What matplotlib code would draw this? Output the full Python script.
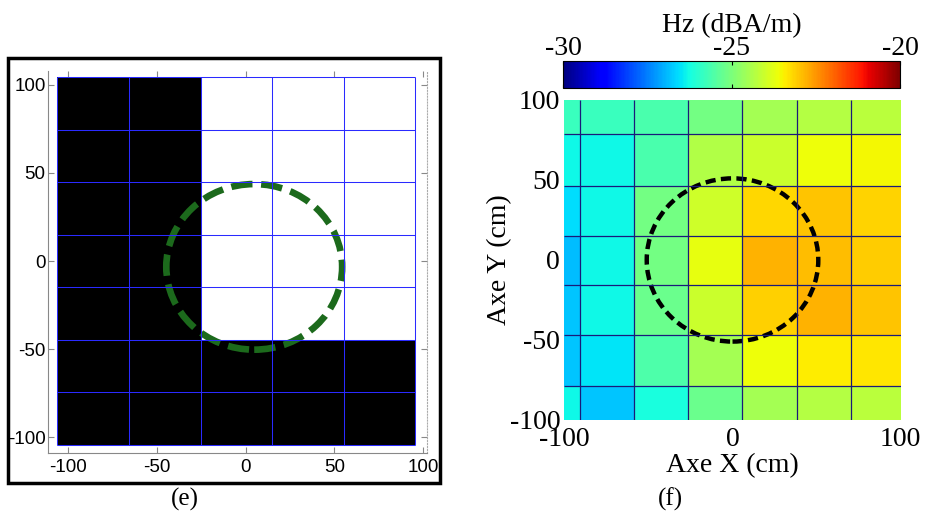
import numpy as np
import matplotlib
matplotlib.use("Agg")
import matplotlib.pyplot as plt
from matplotlib.patches import Ellipse, Rectangle, Circle

# ---------------- data ----------------
# panel (e): binary map (1 = black, 0 = white), rows bottom -> top
e_x_edges = [-106, -65.7, -25.3, 15.0, 55.3, 95.6]
e_y_edges = [-104.2, -74.4, -44.7, -14.9, 14.9, 44.7, 74.4, 104.2]
e_mask = [
    [1, 1, 1, 1, 1],
    [1, 1, 1, 1, 1],
    [1, 1, 0, 0, 0],
    [1, 1, 0, 0, 0],
    [1, 1, 0, 0, 0],
    [1, 1, 0, 0, 0],
    [1, 1, 0, 0, 0],
]
e_ticks = [-100, -50, 0, 50, 100]

# panel (f): Hz (dBA/m), rows top -> bottom
f_x_edges = [-100, -90.7, -58.5, -26.3, 5.9, 38.1, 70.3, 100]
f_y_edges = [100, 78.6, 46.4, 15.2, -15.6, -46.9, -78.6, -100]
f_values = [
    [-25.8, -25.8, -25.6, -25.1, -24.5, -24.3, -24.25],
    [-26.3, -26.3, -25.6, -24.35, -24.05, -23.6, -23.55],
    [-26.6, -26.3, -25.1, -24.0, -23.2, -23.0, -23.15],
    [-26.9, -26.3, -25.1, -23.7, -22.8, -22.9, -23.05],
    [-26.8, -26.3, -25.2, -24.05, -23.1, -22.8, -23.0],
    [-26.8, -26.5, -25.55, -24.5, -23.6, -23.4, -23.35],
    [-26.3, -26.8, -26.2, -25.2, -24.5, -24.3, -24.25],
]
f_ticks = [-100, 0, 100]
f_yticks = [-100, -50, 0, 50, 100]
cbar_ticks = [-30, -25, -20]

serif = ['Liberation Serif', 'DejaVu Serif']
sans = ['Liberation Sans', 'DejaVu Sans']

fig = plt.figure(figsize=(9.26, 5.19), dpi=100)

# ---------------- panel (e) ----------------
ax1 = fig.add_axes([0.0522, 0.127, 0.4086, 0.7366])
ax1.pcolormesh(e_x_edges, e_y_edges, np.array(e_mask),
               cmap=matplotlib.colors.ListedColormap(['white', 'black']),
               vmin=0, vmax=1, shading='flat')
ax1.vlines(e_x_edges, e_y_edges[0], e_y_edges[-1], color='#2a2aff',
           linewidth=0.75)
ax1.hlines(e_y_edges, e_x_edges[0], e_x_edges[-1], color='#2a2aff',
           linewidth=0.75)
ax1.add_patch(Ellipse((4.9, -3.3), 99, 94, fill=False, edgecolor='#1c6a1c',
                      linewidth=4.8, linestyle=(0, (3.2, 1.3))))
ax1.set_xlim(-111, 102)
ax1.set_ylim(-109, 108)
ax1.set_xticks(e_ticks)
ax1.set_yticks(e_ticks)
ax1.set_xticklabels([str(t) for t in e_ticks], family=sans, fontsize=13.5)
ax1.set_yticklabels([str(t) for t in e_ticks], family=sans, fontsize=13.5)
ax1.tick_params(direction='in', length=4, color='#888888', pad=2,
                top=True, right=True)
ax1.tick_params(axis='x', pad=4)
for s in ['left', 'bottom']:
    ax1.spines[s].set_color('#888888')
ax1.spines['top'].set_visible(False)
ax1.spines['right'].set_color('#aaaaaa')
ax1.spines['right'].set_linestyle(':')

fig.patches.append(Rectangle((8 / 926, 1 - 483 / 519), 432 / 926, 425 / 519,
                             transform=fig.transFigure, fill=False,
                             edgecolor='black', linewidth=2.5))

# ---------------- panel (f) ----------------
ax2 = fig.add_axes([0.6094, 0.1908, 0.3633, 0.6166])
mesh = ax2.pcolormesh(f_x_edges, f_y_edges, np.array(f_values), cmap='jet',
                      vmin=-30, vmax=-20, shading='flat')
ax2.vlines(f_x_edges[1:-1], -100, 100, color='#1a1a7a', linewidth=0.9)
ax2.hlines(f_y_edges[1:-1], -100, 100, color='#1a1a7a', linewidth=0.9)
ax2.add_patch(Circle((0, 0), 51, fill=False, edgecolor='black',
                     linewidth=3.2, linestyle=(0, (2.3, 1.2))))
ax2.set_xlim(-100, 100)
ax2.set_ylim(-100, 100)
ax2.set_xticks(f_ticks)
ax2.set_yticks(f_yticks)
ax2.set_xticklabels([str(t) for t in f_ticks], family=serif, fontsize=20)
ax2.set_yticklabels([str(t) for t in f_yticks], family=serif, fontsize=20)
ax2.tick_params(length=0, pad=3)
ax2.tick_params(axis='x', pad=5)
for s in ax2.spines.values():
    s.set_visible(False)
ax2.set_xlabel('Axe X (cm)', family=serif, fontsize=20, labelpad=1)
ax2.set_ylabel('Axe Y (cm)', family=serif, fontsize=20, labelpad=-2)

cax = fig.add_axes([0.6083, 0.8304, 0.3636, 0.052])
cb = fig.colorbar(mesh, cax=cax, orientation='horizontal', ticks=cbar_ticks)
cax.xaxis.set_ticks_position('top')
cax.xaxis.set_label_position('top')
cax.set_xticklabels([str(t) for t in cbar_ticks], family=serif, fontsize=20)
cax.tick_params(direction='in', length=3, pad=0, top=True, bottom=True)
cb.outline.set_linewidth(0.8)
cb.set_label('Hz (dBA/m)', family=serif, fontsize=20, labelpad=3)

# ---------------- captions ----------------
fig.text(185 / 926, 1 - 499 / 519, '(e)', family=serif, fontsize=18,
         ha='center', va='center')
fig.text(670 / 926, 1 - 499 / 519, '(f)', family=serif, fontsize=18,
         ha='center', va='center')

fig.savefig('out.png', dpi=100)
